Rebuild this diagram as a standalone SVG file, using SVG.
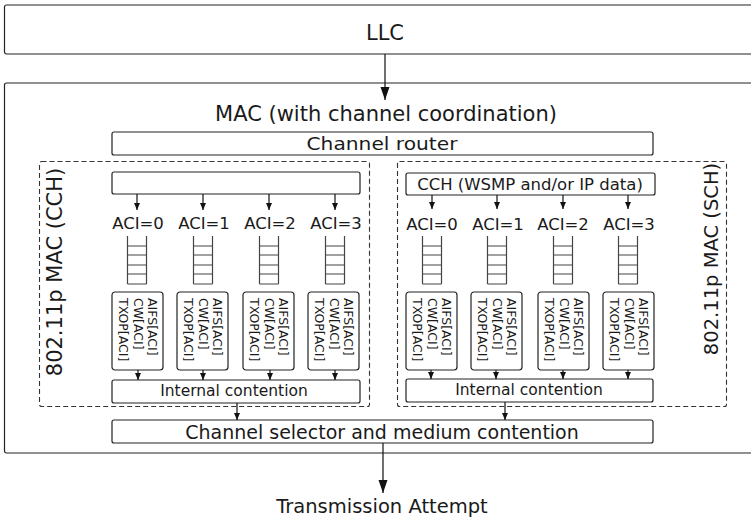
<svg xmlns="http://www.w3.org/2000/svg" width="751" height="521" viewBox="0 0 751 521">
<style>
.box{fill:#fff;stroke:#222;stroke-width:1.2}
.dash{fill:none;stroke:#333;stroke-width:1.1;stroke-dasharray:5,3}
.t{font-family:"DejaVu Sans","Liberation Sans",sans-serif;fill:#1a1a1a}
.c{text-anchor:middle}
.q{fill:none;stroke:#444;stroke-width:1.2}
.ln{fill:none;stroke:#111;stroke-width:1.2}
.p{font-size:12.5px}
</style>
<defs>
<marker id="a" markerUnits="userSpaceOnUse" markerWidth="8" markerHeight="8" refX="7" refY="3" orient="auto"><path d="M0,0 L7,3 L0,6 z" fill="#111"/></marker>
<marker id="A" markerUnits="userSpaceOnUse" markerWidth="14" markerHeight="10" refX="13" refY="4.5" orient="auto"><path d="M0,0 L13,4.5 L0,9 z" fill="#111"/></marker>
<g id="pbox">
<rect class="box" x="0" y="0" width="51" height="78" rx="3"/>
<text class="t p" transform="translate(36,6) rotate(90)">AIFS[ACI]</text>
<text class="t p" transform="translate(22,6) rotate(90)">CW[ACI]</text>
<text class="t p" transform="translate(7,6) rotate(90)">TXOP[ACI]</text>
</g>
<path id="queue" class="q" d="M-9.5,236V284M9.5,236V284M-9.5,246H9.5M-9.5,255H9.5M-9.5,265H9.5M-9.5,274H9.5M-9.5,284H9.5"/>
</defs>

<g id="llc">
<rect class="box" x="4.5" y="5" width="770" height="49" rx="2"/>
<text class="t c" x="385" y="40" font-size="21">LLC</text>
</g>

<g id="mac">
<rect class="box" x="4.5" y="83" width="770" height="370" rx="2"/>
<text class="t c" x="386" y="121" font-size="21">MAC (with channel coordination)</text>
</g>

<g id="channel-router">
<rect class="box" x="112" y="132" width="541" height="23" rx="2"/>
<text class="t c" x="382" y="150" font-size="18" textLength="151" lengthAdjust="spacingAndGlyphs">Channel router</text>
</g>

<g id="mac-cch">
<rect class="dash" x="39.5" y="161.5" width="330" height="245" rx="2"/>
<text class="t c" transform="translate(62,272) rotate(-90)" font-size="21">802.11p MAC (CCH)</text>
</g>

<g id="mac-sch">
<rect class="dash" x="397.5" y="161.5" width="329" height="245" rx="2"/>
<text class="t c" transform="translate(718,259) rotate(-90)" font-size="19.5">802.11p MAC (SCH)</text>
</g>

<g id="cch-source">
<rect class="box" x="112" y="172" width="248" height="22" rx="2"/>
</g>

<g id="sch-source">
<rect class="box" x="406" y="173" width="249" height="22" rx="2"/>
<text class="t c" x="530" y="190" font-size="16.5">CCH (WSMP and/or IP data)</text>
</g>

<g id="cch-aci0"><text class="t c" x="138" y="229" font-size="16.5">ACI=0</text><use href="#queue" transform="translate(137,0)"/><use href="#pbox" x="112" y="292"/></g>
<g id="cch-aci1"><text class="t c" x="204" y="229" font-size="16.5">ACI=1</text><use href="#queue" transform="translate(203,0)"/><use href="#pbox" x="177" y="292"/></g>
<g id="cch-aci2"><text class="t c" x="270" y="229" font-size="16.5">ACI=2</text><use href="#queue" transform="translate(269,0)"/><use href="#pbox" x="243" y="292"/></g>
<g id="cch-aci3"><text class="t c" x="336" y="229" font-size="16.5">ACI=3</text><use href="#queue" transform="translate(335,0)"/><use href="#pbox" x="308" y="292"/></g>

<g id="sch-aci0"><text class="t c" x="432" y="230" font-size="16.5">ACI=0</text><use href="#queue" transform="translate(432,0)"/><use href="#pbox" x="406" y="292"/></g>
<g id="sch-aci1"><text class="t c" x="498" y="230" font-size="16.5">ACI=1</text><use href="#queue" transform="translate(497,0)"/><use href="#pbox" x="471" y="292"/></g>
<g id="sch-aci2"><text class="t c" x="563" y="230" font-size="16.5">ACI=2</text><use href="#queue" transform="translate(563,0)"/><use href="#pbox" x="538" y="292"/></g>
<g id="sch-aci3"><text class="t c" x="629" y="230" font-size="16.5">ACI=3</text><use href="#queue" transform="translate(628,0)"/><use href="#pbox" x="603" y="292"/></g>

<g id="cch-contention">
<rect class="box" x="112" y="380" width="248" height="23" rx="2"/>
<text class="t c" x="234" y="396" font-size="15.5">Internal contention</text>
</g>

<g id="sch-contention">
<rect class="box" x="406" y="379" width="247" height="23" rx="2"/>
<text class="t c" x="529" y="395" font-size="15.5">Internal contention</text>
</g>

<g id="channel-selector">
<rect class="box" x="112" y="420" width="541" height="23" rx="2"/>
<text class="t c" x="382" y="439" font-size="19">Channel selector and medium contention</text>
</g>

<g id="transmission">
<text class="t c" x="382" y="513" font-size="19.5">Transmission Attempt</text>
</g>

<g id="connectors">
<path class="ln" d="M385,54V100" marker-end="url(#A)"/>
<path class="ln" d="M137,194V210" marker-end="url(#a)"/>
<path class="ln" d="M203,194V210" marker-end="url(#a)"/>
<path class="ln" d="M269,194V210" marker-end="url(#a)"/>
<path class="ln" d="M335,194V210" marker-end="url(#a)"/>
<path class="ln" d="M432,195V209" marker-end="url(#a)"/>
<path class="ln" d="M497,195V209" marker-end="url(#a)"/>
<path class="ln" d="M563,195V209" marker-end="url(#a)"/>
<path class="ln" d="M628,195V209" marker-end="url(#a)"/>
<path class="ln" d="M138,370V380" marker-end="url(#a)"/>
<path class="ln" d="M203,370V380" marker-end="url(#a)"/>
<path class="ln" d="M270,370V380" marker-end="url(#a)"/>
<path class="ln" d="M335,370V380" marker-end="url(#a)"/>
<path class="ln" d="M431,370V379" marker-end="url(#a)"/>
<path class="ln" d="M496,370V379" marker-end="url(#a)"/>
<path class="ln" d="M563,370V379" marker-end="url(#a)"/>
<path class="ln" d="M628,370V379" marker-end="url(#a)"/>
<path class="ln" d="M237,403V420" marker-end="url(#a)"/>
<path class="ln" d="M505,402V420" marker-end="url(#a)"/>
<path class="ln" d="M383,443V493" marker-end="url(#A)"/>
</g>
</svg>
